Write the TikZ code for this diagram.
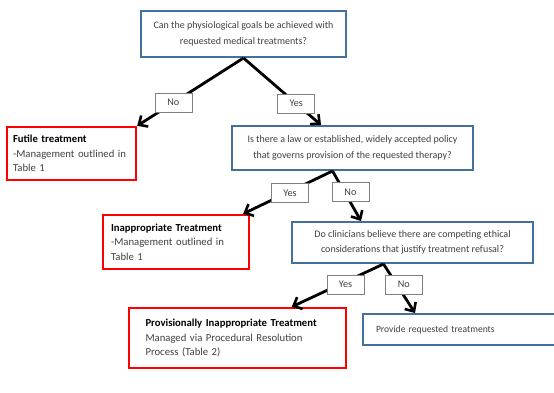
\documentclass[tikz,border=0pt]{standalone}
\usepackage{fontspec}
\setmainfont{Carlito}
\usetikzlibrary{arrows.meta}
\definecolor{qblue}{HTML}{41719C}
\definecolor{txtgray}{HTML}{404040}

\begin{document}
\begin{tikzpicture}[x=1pt, y=-1pt,
		question/.style={draw=qblue, line width=2pt, fill=white, align=center,
			font=\fontsize{10}{15.5}\selectfont, text=txtgray, inner sep=0pt},
		result/.style={draw=red, line width=2.4pt, fill=white, align=left,
			font=\fontsize{10.7}{14.4}\selectfont, text=txtgray, inner sep=0pt},
		answer/.style={draw=gray, fill=white, line width=0.6pt, minimum width=37pt,
			minimum height=19pt, font=\fontsize{10.2}{10}\selectfont, text=txtgray, inner sep=0pt},
		link/.style={line width=2.8pt, -{Straight Barb[length=7pt,width=13pt,line width=2.6pt]}}]
	\useasboundingbox (0,0) rectangle (554,392);
	\clip (0,0) rectangle (554,392);
		% questions
		\node[question, minimum width=205pt, minimum height=46pt] (goals) at (243.5,34) 
			{Can the physiological goals be achieved with\\requested medical treatments?};
		\node[question, minimum width=241pt, minimum height=44pt] (policy) at (352.5,148) 
			{Is there a law or established, widely accepted policy\\that governs provision of the requested therapy?};
		\node[question, minimum width=241pt, minimum height=41pt] (ethics) at (412.5,242.5) 
			{Do clinicians believe there are competing ethical\\considerations that justify treatment refusal?};
		% outcomes
		\node[result, minimum width=129pt, minimum height=53pt, text width=117pt] (futile) at (71.5,153.5) 
			{\textbf{\textcolor{black}{Futile treatment}}\\-Management outlined in\\Table 1};
		\node[result, minimum width=146pt, minimum height=54pt, text width=130pt] (inapp) at (176,242) 
			{\textbf{\textcolor{black}{Inappropriate Treatment}}\\-Management outlined in\\Table 1};
		\node[result, minimum width=217pt, minimum height=60pt, text width=184pt] (prov) at (237.5,338) 
			{\textbf{\textcolor{black}{Provisionally Inappropriate Treatment}}\\Managed via Procedural Resolution\\Process (Table 2)};
		\node[draw=qblue, line width=2pt, fill=white, minimum width=200pt, minimum height=31pt, 
			anchor=north west, font=\fontsize{9.6}{10}\selectfont, text=txtgray, inner sep=0pt, 
			text width=190pt, align=left] (provide) at (362,313) 
			{\hspace*{8pt}Provide requested treatments};
		% answers
		\draw[link] (goals.south) -- (futile.north east) 
			node[answer, pos=0.66] (no1) {No};
		\draw[link] (goals.south) -- ([xshift=90pt]policy.north west) 
			node[answer, pos=0.68] (yes1) {Yes};
		\draw[link] ([xshift=-20pt]policy.south) -- ([xshift=-7pt]inapp.north east) 
			node[answer, pos=0.52, xshift=4pt] (yes2) {Yes};
		\draw[link] ([xshift=-20pt]policy.south) -- ([xshift=70pt]ethics.north west) 
			node[answer, pos=0.42, xshift=6pt] (no2) {No};
		\draw[link] ([xshift=-29pt]ethics.south) -- ([xshift=164pt]prov.north west) 
			node[answer, pos=0.48, xshift=6pt] (yes3) {Yes};
		\draw[link] ([xshift=-29pt]ethics.south) -- ([xshift=53pt]provide.north west) 
			node[answer, pos=0.42, xshift=7pt] (no3) {No};
	\end{tikzpicture}
\end{document}
